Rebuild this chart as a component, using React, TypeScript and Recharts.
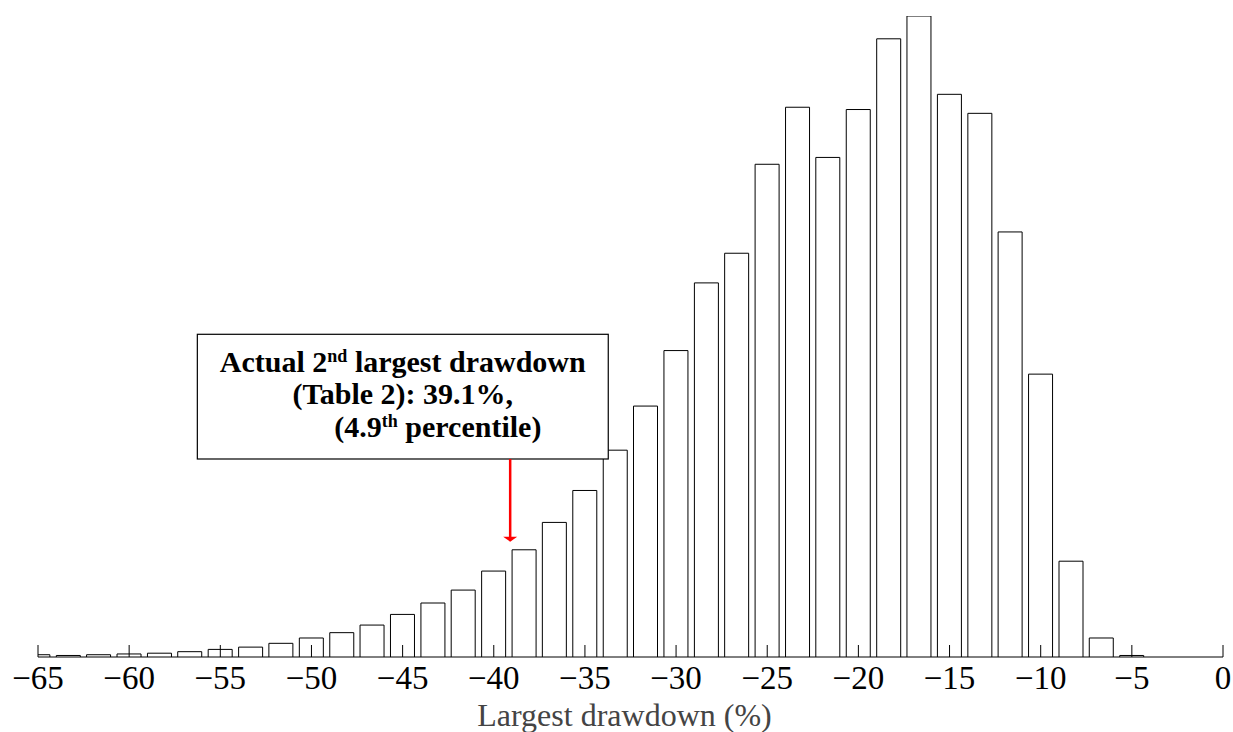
import React from "react";
import {
  BarChart,
  Bar,
  XAxis,
  YAxis,
  ReferenceArea,
  ReferenceLine,
} from "recharts";

// bin centres (% drawdown), bins are 5/3 % wide
const binCenters = [
  -65, -63.33, -61.67, -60, -58.33, -56.67, -55, -53.33, -51.67, -50,
  -48.33, -46.67, -45, -43.33, -41.67, -40, -38.33, -36.67, -35, -33.33,
  -31.67, -30, -28.33, -26.67, -25, -23.33, -21.67, -20, -18.33, -16.67,
  -15, -13.33, -11.67, -10, -8.33, -6.67, -5, -3.33, -1.67, 0,
];

// simulated count per bin (out of 10,000 draws)
const counts = [
  3, 2, 3, 4, 5, 7, 10, 13, 18, 25,
  32, 42, 56, 71, 88, 113, 141, 177, 219, 272,
  330, 403, 492, 531, 648, 723, 657, 720, 813, 843,
  740, 715, 559, 372, 126, 25, 2, 0, 0, 0,
];

const xTicks = [-65, -60, -55, -50, -45, -40, -35, -30, -25, -20, -15, -10, -5, 0];

const actualDrawdown = -39.1;

const data = binCenters.map((x, i) => ({ x, count: counts[i] }));

const SERIF = "'Liberation Serif', 'Times New Roman', serif";

const AxisTick = (props: any) => {
  const { x, y, payload } = props;
  const v = payload.value;
  const label = v < 0 ? `\u2212${Math.abs(v)}` : `${v}`;
  return (
    <g>
      <line x1={x} x2={x} y1={y - 12} y2={y} stroke="#000" strokeWidth={1} />
      <text
        x={x}
        y={y + 32}
        textAnchor="middle"
        fontFamily={SERIF}
        fontSize={33}
        fill="#000"
      >
        {label}
      </text>
    </g>
  );
};

const AxisTitle = (props: any) => {
  const vb = props.viewBox;
  return (
    <text
      x={vb.x + vb.width / 2 - 6}
      y={vb.y + 69}
      textAnchor="middle"
      fontFamily={SERIF}
      fontSize={32}
      fill="#444"
    >
      Largest drawdown (%)
    </text>
  );
};

const NoteBox = (props: any) => {
  const { x, y, width, height } = props;
  const cx = x + width / 2;
  const txt = {
    fontFamily: SERIF,
    fontSize: 30,
    fontWeight: 700,
    fill: "#000",
  };
  return (
    <g>
      <rect x={x} y={y} width={width} height={height} fill="#fff" stroke="#000" strokeWidth={1.2} />
      <text x={cx} y={y + 37.5} textAnchor="middle" {...txt}>
        Actual 2
        <tspan dy={-10} fontSize={18}>nd</tspan>
        <tspan dy={10}> largest drawdown</tspan>
      </text>
      <text x={cx} y={y + 70} textAnchor="middle" {...txt}>
        (Table 2): 39.1%,
      </text>
      <text x={x + 137} y={y + 103} textAnchor="start" {...txt}>
        (4.9
        <tspan dy={-10} fontSize={18}>th</tspan>
        <tspan dy={10}> percentile)</tspan>
      </text>
    </g>
  );
};

const Arrow = (p: any) => (
  <g>
    <line x1={p.x1} y1={p.y1} x2={p.x2} y2={p.y2 - 3} stroke="#ff0000" strokeWidth={2.5} />
    <polygon
      points={`${p.x2 - 7},${p.y2 - 5} ${p.x2 + 7},${p.y2 - 5} ${p.x2},${p.y2}`}
      fill="#ff0000"
    />
  </g>
);

export default function App() {
  return (
    <div style={{ position: "absolute", left: 0, top: 0, background: "#fff" }}>
      <BarChart
        width={1233}
        height={732}
        data={data}
        margin={{ top: 16, right: 10, bottom: 0, left: 38 }}
      >
        <XAxis
          dataKey="x"
          type="number"
          domain={[-65, 0]}
          ticks={xTicks}
          allowDataOverflow
          height={75}
          tickSize={0}
          tickMargin={0}
          tickLine={false}
          axisLine={{ stroke: "#000", strokeWidth: 1 }}
          tick={<AxisTick />}
          interval={0}
          label={AxisTitle}
        />
        <YAxis hide type="number" domain={[0, 843]} allowDataOverflow />
        <Bar
          dataKey="count"
          fill="#fff"
          stroke="#000"
          strokeWidth={1}
          barSize={24}
          isAnimationActive={false}
          zIndex={600}
        />
        <ReferenceArea
          x1={-56.26}
          x2={-33.72}
          y1={260.4}
          y2={424.4}
          shape={NoteBox}
          zIndex={700}
        />
        <ReferenceLine
          segment={[
            { x: actualDrawdown, y: 260.4 },
            { x: actualDrawdown, y: 151.6 },
          ]}
          shape={Arrow}
          zIndex={800}
        />
      </BarChart>
    </div>
  );
}
